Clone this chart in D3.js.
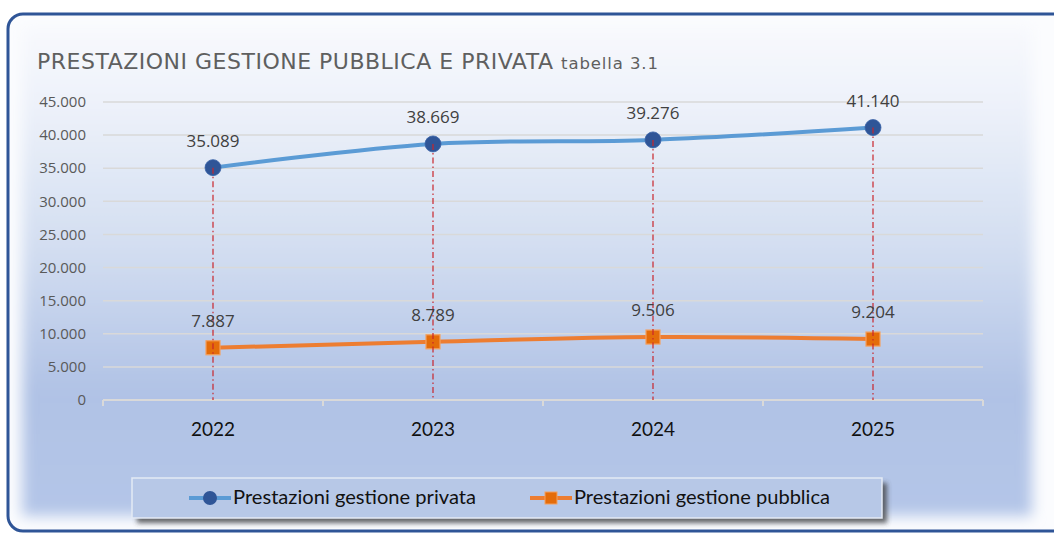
<!DOCTYPE html>
<html>
<head>
<meta charset="utf-8">
<script src="https://cdn.jsdelivr.net/npm/d3@7"></script>
<style>
  body { margin: 0; background: #fff; }
  svg { display: block; }
</style>
</head>
<body>
<div id="chart"></div>
<script>
// years on the x axis
let years = ['2022', '2023', '2024', '2025'];
// series values
let privata = [35089, 38669, 39276, 41140];
let pubblica = [7887, 8789, 9506, 9204];
// y tick values
let yTicks = [0, 5000, 10000, 15000, 20000, 25000, 30000, 35000, 40000, 45000];
let seriesNames = ['Prestazioni gestione privata', 'Prestazioni gestione pubblica'];

let w = 1054, h = 534;
let sans = '"Open Sans", "Noto Sans", sans-serif';

let svg = d3.select('#chart').append('svg')
  .attr('width', w).attr('height', h);

let defs = svg.append('defs');

// background gradient of the chart area
let grad = defs.append('linearGradient').attr('id', 'bg')
  .attr('x1', 0).attr('y1', 0).attr('x2', 0).attr('y2', 1);
[['0%', '#f8f9fd'], ['15%', '#eef2fa'], ['45%', '#d3def1'], ['75%', '#b0c2e5'], ['100%', '#b4c6e8']]
  .forEach(s => grad.append('stop').attr('offset', s[0]).attr('stop-color', s[1]));

let soft = defs.append('filter').attr('id', 'soft')
  .attr('x', '-5%').attr('y', '-5%').attr('width', '110%').attr('height', '110%');
soft.append('feGaussianBlur').attr('stdDeviation', 7);

let shadow = defs.append('filter').attr('id', 'shadow')
  .attr('x', '-5%').attr('y', '-30%').attr('width', '110%').attr('height', '170%');
shadow.append('feGaussianBlur').attr('stdDeviation', 2.5);

let clip = defs.append('clipPath').attr('id', 'frameClip');
clip.append('rect').attr('x', 9).attr('y', 15).attr('width', 1060).attr('height', 515).attr('rx', 14);

// frame background
svg.append('rect')
  .attr('x', 8).attr('y', 14).attr('width', 1062).attr('height', 517).attr('rx', 15)
  .attr('fill', '#fbfcfe');

svg.append('g').attr('clip-path', 'url(#frameClip)')
  .append('rect')
  .attr('x', 22).attr('y', 26).attr('width', 1010).attr('height', 490)
  .attr('fill', 'url(#bg)')
  .attr('filter', 'url(#soft)');

// frame border
svg.append('rect')
  .attr('x', 8).attr('y', 14).attr('width', 1062).attr('height', 517).attr('rx', 15)
  .attr('fill', 'none').attr('stroke', '#2f5597').attr('stroke-width', 3);

// title
let titleFont = '"DejaVu Sans", Verdana, sans-serif';
svg.append('text')
  .attr('x', 37).attr('y', 69)
  .attr('font-family', titleFont).attr('font-size', 22)
  .attr('textLength', 516).attr('lengthAdjust', 'spacing')
  .attr('fill', '#5f5f5f')
  .text('PRESTAZIONI GESTIONE PUBBLICA E PRIVATA');
svg.append('text')
  .attr('x', 561).attr('y', 69)
  .attr('font-family', titleFont).attr('font-size', 16.5)
  .attr('textLength', 97).attr('lengthAdjust', 'spacing')
  .attr('fill', '#5f5f5f')
  .text('tabella 3.1');

// scales
let x = d3.scaleBand().domain(years).range([103, 983]);
let y = d3.scaleLinear().domain([0, 45000]).range([400, 102]);
let cx = d => x(d) + x.bandwidth() / 2;

let fmt = v => d3.format(',')(v).replace(/,/g, '.');

// gridlines
svg.append('g').selectAll('line')
  .data(yTicks.slice(1))
  .enter().append('line')
  .attr('x1', 103).attr('x2', 983)
  .attr('y1', d => y(d)).attr('y2', d => y(d))
  .attr('stroke', '#d9d9d9').attr('stroke-width', 1.5);

// y axis labels
svg.append('g').selectAll('text')
  .data(yTicks)
  .enter().append('text')
  .attr('x', 86).attr('y', d => y(d))
  .attr('dy', '0.35em')
  .attr('text-anchor', 'end')
  .attr('font-family', sans).attr('font-size', 15)
  .attr('fill', '#595959')
  .text(fmt);

// x axis
let xAxis = svg.append('g').attr('transform', 'translate(0,400)');
xAxis.append('line').attr('x1', 103).attr('x2', 983)
  .attr('stroke', '#d9d9d9').attr('stroke-width', 2);
xAxis.selectAll('.sep')
  .data(years.concat(['end']))
  .enter().append('line')
  .attr('x1', (d, i) => 103 + i * x.bandwidth())
  .attr('x2', (d, i) => 103 + i * x.bandwidth())
  .attr('y1', 0).attr('y2', 6)
  .attr('stroke', '#d9d9d9').attr('stroke-width', 2);

svg.append('g').selectAll('text')
  .data(years)
  .enter().append('text')
  .attr('x', cx).attr('y', 436)
  .attr('text-anchor', 'middle')
  .attr('font-family', 'Lato').attr('font-size', 19)
  .attr('fill', '#111')
  .text(d => d);

// lines
let lineGen = vals => d3.line()
  .x((d, i) => cx(years[i]))
  .y(d => y(d))
  .curve(d3.curveCatmullRom.alpha(0.5))(vals);

svg.append('path').attr('d', lineGen(privata))
  .attr('fill', 'none').attr('stroke', '#5b9bd5').attr('stroke-width', 4)
  .attr('stroke-linecap', 'round');
svg.append('path').attr('d', lineGen(pubblica))
  .attr('fill', 'none').attr('stroke', '#ed7d31').attr('stroke-width', 4)
  .attr('stroke-linecap', 'round');

// markers
svg.append('g').selectAll('circle')
  .data(privata)
  .enter().append('circle')
  .attr('cx', (d, i) => cx(years[i])).attr('cy', d => y(d))
  .attr('r', 8)
  .attr('fill', '#2f5597').attr('stroke', '#3a63a8').attr('stroke-width', 0.8);

svg.append('g').selectAll('rect')
  .data(pubblica)
  .enter().append('rect')
  .attr('x', (d, i) => cx(years[i]) - 7).attr('y', d => y(d) - 7)
  .attr('width', 14).attr('height', 14)
  .attr('fill', '#e46c0a').attr('stroke', '#f5a05e').attr('stroke-width', 1.2);

// drop lines
svg.append('g').selectAll('line')
  .data(privata)
  .enter().append('line')
  .attr('x1', (d, i) => cx(years[i])).attr('x2', (d, i) => cx(years[i]))
  .attr('y1', d => y(d)).attr('y2', 400)
  .attr('stroke', '#c8242b').attr('stroke-opacity', 0.75).attr('stroke-width', 1.6)
  .attr('stroke-dasharray', '6,3,1.5,3');

// data labels
let addLabels = vals => svg.append('g').selectAll('text')
  .data(vals)
  .enter().append('text')
  .attr('x', (d, i) => cx(years[i])).attr('y', d => y(d) - 21)
  .attr('text-anchor', 'middle')
  .attr('font-family', sans).attr('font-size', 17)
  .attr('fill', '#404040')
  .text(fmt);
addLabels(privata);
addLabels(pubblica);

// legend
svg.append('rect')
  .attr('x', 137).attr('y', 483).attr('width', 750).attr('height', 40)
  .attr('fill', '#3a3a3a').attr('opacity', 0.75)
  .attr('filter', 'url(#shadow)');
svg.append('rect')
  .attr('x', 132).attr('y', 478).attr('width', 750).attr('height', 40)
  .attr('fill', '#b7c8e7').attr('stroke', '#e4eaf5').attr('stroke-width', 1.5);

let legendItems = [
  { name: seriesNames[0], x0: 189, width: 243, color: '#5b9bd5', mark: 'circle' },
  { name: seriesNames[1], x0: 530, width: 256, color: '#ed7d31', mark: 'rect' }
];
let lg = svg.append('g').selectAll('g')
  .data(legendItems)
  .enter().append('g')
  .attr('transform', d => 'translate(' + d.x0 + ',498)');
lg.append('line').attr('x1', 0).attr('x2', 42)
  .attr('stroke', d => d.color).attr('stroke-width', 4);
lg.filter(d => d.mark === 'circle').append('circle')
  .attr('cx', 21).attr('r', 7).attr('fill', '#2f5597');
lg.filter(d => d.mark === 'rect').append('rect')
  .attr('x', 15).attr('y', -6).attr('width', 12).attr('height', 12)
  .attr('fill', '#e46c0a').attr('stroke', '#f5a05e');
lg.append('text')
  .attr('x', 44).attr('y', 6)
  .attr('font-family', 'Lato').attr('font-size', 19)
  .attr('textLength', d => d.width).attr('lengthAdjust', 'spacingAndGlyphs')
  .attr('fill', '#111')
  .text(d => d.name);
</script>
</body>
</html>
